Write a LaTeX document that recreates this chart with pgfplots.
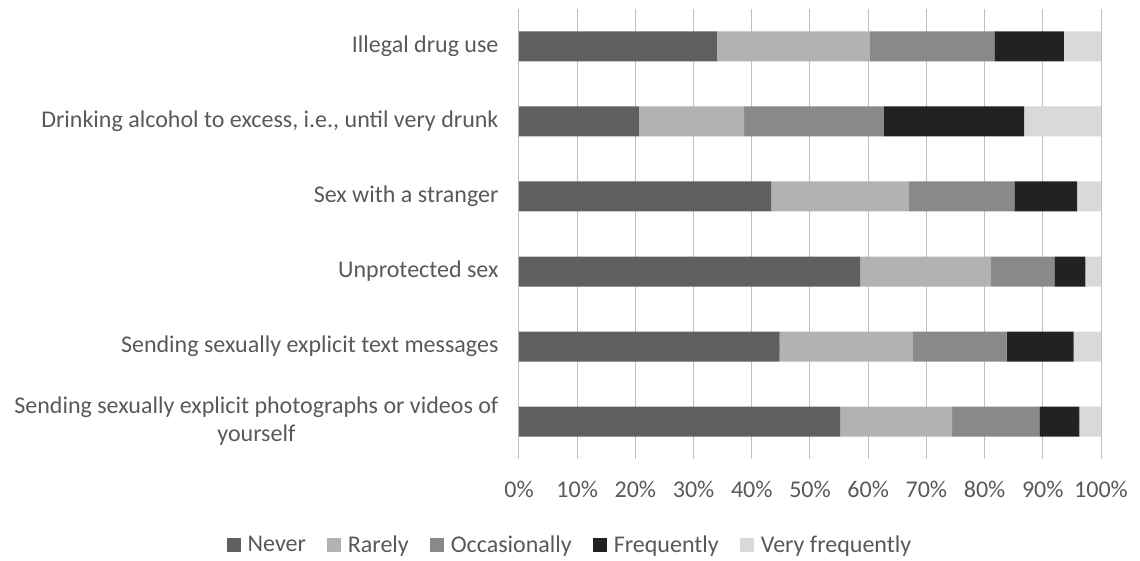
\documentclass[border=0pt]{standalone}
\usepackage{pgfplots}
\pgfplotsset{compat=1.18}
\usepackage{fontspec}
\setmainfont{Carlito}
\definecolor{cNever}{HTML}{5F5F5F}
\definecolor{cRarely}{HTML}{B2B2B2}
\definecolor{cOcc}{HTML}{898989}
\definecolor{cFreq}{HTML}{222222}
\definecolor{cVery}{HTML}{D9D9D9}
\definecolor{txt}{HTML}{595959}
\definecolor{grid}{HTML}{D9D9D9}
\begin{document}
\begin{tikzpicture}
\useasboundingbox (-519pt,-101pt) rectangle (621pt,459pt);
\begin{axis}[
  at={(0,0)}, anchor=south west,
  scale only axis, width=582pt, height=450pt,
  xbar stacked, bar width=30pt,
  xmin=0, xmax=100, ymin=-0.5, ymax=5.5,
  axis line style={draw=none},
  xmajorgrids, grid style={grid, line width=1pt},
  xtick={0,10,...,100},
  xticklabel={\pgfmathprintnumber{\tick}\%},
  /pgf/number format/assume math mode=true,
  ytick={0,1,2,3,4,5},
  yticklabels={{Sending sexually explicit photographs or videos of\\yourself},
    {Sending sexually explicit text messages},
    {Unprotected sex},
    {Sex with a stranger},
    {Drinking alcohol to excess, i.e., until very drunk},
    {Illegal drug use}},
  major tick length=0pt,
  every tick label/.append style={font=\fontsize{24}{28}\selectfont, text=txt},
  yticklabel style={align=center, xshift=-17pt},
  xticklabel style={yshift=-19pt},
  legend style={at={(0.0876,-0.190)}, anchor=center, draw=none, legend columns=-1,
    font=\fontsize{24}{28}\selectfont, text=txt,
    /tikz/every odd column/.append style={column sep=5pt},
    /tikz/every even column/.append style={column sep=19pt}},
  legend image code/.code={\fill[#1] (0pt,-7pt) rectangle (14pt,7pt);},
]
\addplot[fill=cNever, draw=none] coordinates {(55.2,0) (44.8,1) (58.6,2) (43.3,3) (20.6,4) (34.0,5)};
\addplot[fill=cRarely, draw=none] coordinates {(19.2,0) (22.9,1) (22.4,2) (23.7,3) (18.1,4) (26.3,5)};
\addplot[fill=cOcc, draw=none] coordinates {(15.0,0) (16.1,1) (11.0,2) (18.1,3) (24.0,4) (21.4,5)};
\addplot[fill=cFreq, draw=none] coordinates {(6.9,0) (11.5,1) (5.3,2) (10.8,3) (24.1,4) (11.9,5)};
\addplot[fill=cVery, draw=none] coordinates {(3.7,0) (4.7,1) (2.7,2) (4.1,3) (13.2,4) (6.4,5)};
\legend{Never, Rarely, Occasionally, Frequently, Very frequently}
\end{axis}
\end{tikzpicture}
\end{document}
